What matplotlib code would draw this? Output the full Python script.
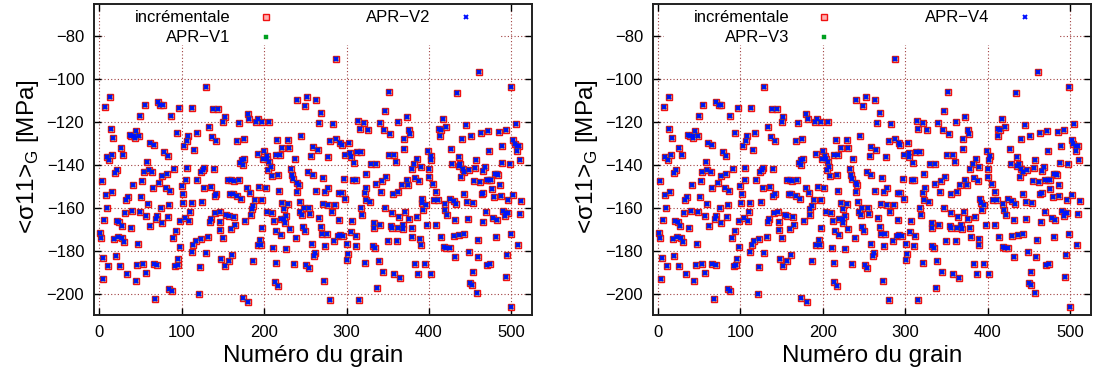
import matplotlib
matplotlib.use("Agg")
import matplotlib.pyplot as plt
from matplotlib.patches import Rectangle

plt.rcParams["font.family"] = ["Liberation Sans", "DejaVu Sans"]
plt.rcParams["mathtext.fontset"] = "custom"
plt.rcParams["mathtext.rm"] = "Liberation Sans"

# grain number / mean stress <sigma11>_G in MPa
grains = [
    13, 7, 55, 71, 74, 77, 50, 87, 97, 14, 17, 37, 39, 42, 45, 48, 43, 61, 66, 94,
    103, 26, 9, 12, 16, 29, 79, 83, 58, 22, 19, 54, 60, 64, 76, 82, 91, 106, 3, 41,
    52, 73, 65, 81, 86, 100, 105, 8, 15, 35, 33, 51, 59, 75, 85, 101, 10, 31, 40, 49,
    57, 70, 69, 76, 84, 6, 21, 24, 27, 38, 62, 93, 98, 104, 1, 2, 18, 23, 28, 30,
    47, 90, 98, 5, 20, 11, 25, 46, 53, 66, 70, 92, 95, 96, 34, 57, 4, 44, 85, 88, 68,
    129, 113, 138, 144, 152, 150, 180, 182, 193, 190, 198, 206, 170, 133, 118, 108, 107, 137, 142, 167,
    175, 216, 115, 200, 192, 203, 204, 199, 214, 173, 176, 171, 174, 124, 127, 126, 139, 206, 208, 205,
    209, 217, 119, 156, 160, 163, 169, 179, 194, 202, 127, 136, 142, 140, 159, 162, 167, 172, 183, 189,
    198, 102, 112, 125, 185, 187, 110, 141, 146, 154, 157, 184, 204, 210, 109, 135, 134, 147, 164, 177,
    165, 160, 147, 215, 198, 132, 123, 117, 150, 114, 112, 195, 192, 196, 211, 129, 214, 122, 148, 152,
    157, 161, 187, 213, 217, 121, 174, 181,
    287, 240, 252, 263, 249, 269, 266, 283, 314, 321, 316, 326, 229, 245, 222, 230, 259, 265, 280, 287,
    292, 294, 303, 219, 257, 277, 298, 304, 305, 313, 318, 237, 309, 233, 234, 235, 240, 242, 253, 259,
    272, 297, 308, 311, 323, 218, 240, 263, 274, 278, 291, 294, 298, 322, 324, 323, 222, 224, 229, 243,
    248, 255, 271, 278, 286, 282, 318, 319, 227, 244, 246, 256, 267, 291, 307, 212, 220, 224, 225, 231,
    220, 247, 250, 239, 269, 270, 276, 285, 290, 292, 296, 301, 306, 312, 311, 227, 258, 274, 262, 261,
    302, 301, 322, 236, 251, 254, 273, 280, 315,
    352, 347, 373, 340, 346, 353, 362, 376, 377, 370, 370, 417, 412, 415, 421, 413, 434, 351, 358, 360,
    386, 382, 379, 390, 399, 403, 402, 400, 428, 436, 436, 330, 336, 348, 343, 336, 342, 356, 363, 367,
    373, 375, 383, 388, 400, 405, 409, 406, 391, 392, 393, 396, 329, 347, 355, 371, 376, 385, 364, 333,
    333, 341, 354, 355, 363, 368, 369, 379, 398, 409, 414, 430, 420, 425, 430, 433, 419, 422, 411, 350,
    361, 380, 389, 390, 332, 335, 418, 421, 425, 432, 339, 344, 358, 365, 383, 387, 395, 402, 337,
    461, 499, 445, 505, 472, 485, 493, 440, 451, 463, 489, 502, 504, 507, 509, 507, 427, 473, 511, 457,
    438, 441, 443, 448, 456, 468, 466, 488, 498, 480, 483, 484, 439, 470, 473, 475, 455, 462, 486, 476,
    443, 464, 466, 479, 487, 496, 502, 512, 446, 454, 469, 490, 494, 496, 492, 510, 432, 447, 465, 478,
    482, 437, 443, 460, 481, 499, 508, 449, 459, 495, 471, 474, 453, 494, 450, 452, 458, 500,
]
sigma_incr = [
    -108.5, -112.8, -112.0, -110.8, -112.2, -112.0, -117.0, -117.2, -113.3, -123.3, -127.5, -126.0, -126.7, -126.4, -124.4, -126.4, -127.5, -129.8, -130.8, -125.0,
    -131.0, -131.9, -136.5, -137.6, -135.4, -135.4, -134.0, -135.7, -138.7, -142.5, -143.9, -143.2, -142.2, -143.2, -145.0, -144.2, -141.8, -141.3, -147.6, -149.2,
    -147.6, -148.4, -150.7, -151.0, -152.1, -149.7, -147.2, -154.0, -152.8, -154.9, -156.5, -154.8, -158.3, -160.2, -158.6, -158.0, -160.3, -162.3, -161.4, -162.0,
    -163.9, -163.9, -165.4, -167.0, -164.2, -165.9, -166.2, -166.5, -168.5, -169.6, -168.5, -170.7, -166.2, -165.0, -171.6, -174.3, -174.7, -173.5, -174.0, -176.0,
    -176.9, -174.1, -178.1, -183.2, -182.3, -187.3, -187.1, -186.8, -186.3, -186.0, -186.7, -187.1, -186.7, -183.9, -191.0, -190.2, -193.3, -194.1, -198.1, -199.0, -202.6,
    -103.8, -113.3, -114.0, -114.0, -117.8, -120.0, -116.4, -118.7, -118.5, -119.8, -120.0, -119.8, -120.6, -122.3, -124.9, -126.6, -129.0, -127.0, -128.8, -128.8,
    -127.7, -128.3, -133.1, -133.7, -135.0, -135.7, -137.3, -137.3, -135.3, -137.6, -137.3, -139.1, -140.0, -143.3, -141.5, -142.3, -142.1, -138.7, -141.1, -142.5,
    -145.3, -144.9, -147.0, -146.9, -147.0, -147.5, -146.9, -150.7, -150.1, -150.9, -150.9, -150.4, -153.7, -154.6, -153.4, -153.5, -154.5, -155.9, -153.0, -156.5,
    -156.2, -153.8, -157.7, -157.1, -160.7, -159.2, -162.2, -162.6, -162.2, -163.3, -163.8, -163.3, -162.2, -162.6, -166.4, -165.4, -166.5, -166.7, -164.4, -166.1,
    -168.0, -169.8, -170.2, -170.9, -169.2, -173.5, -174.7, -175.3, -174.1, -177.3, -180.5, -175.2, -177.2, -177.5, -178.9, -181.2, -185.6, -187.6, -183.9, -187.0,
    -184.8, -182.2, -185.0, -194.6, -196.4, -200.1, -202.1, -203.8,
    -90.8, -109.6, -108.5, -109.7, -112.5, -115.8, -120.6, -121.0, -119.5, -120.6, -123.2, -123.7, -128.3, -126.3, -131.9, -132.2, -131.5, -132.9, -128.8, -127.7,
    -130.0, -130.9, -129.7, -135.6, -135.9, -136.5, -135.4, -134.5, -136.3, -134.2, -134.0, -137.4, -139.1, -142.1, -144.9, -146.4, -148.4, -149.3, -143.3, -144.9,
    -146.3, -146.6, -147.2, -147.0, -144.1, -152.0, -152.8, -152.0, -152.6, -150.9, -152.9, -152.9, -155.8, -153.0, -150.9, -156.2, -158.0, -160.5, -158.3, -157.4,
    -160.0, -160.3, -158.2, -158.6, -158.6, -161.9, -160.2, -163.3, -163.9, -161.9, -163.4, -163.1, -165.0, -165.9, -166.1, -166.2, -165.4, -165.4, -167.3, -170.0,
    -172.9, -168.9, -170.6, -174.1, -169.0, -172.4, -172.4, -175.3, -173.3, -172.7, -173.0, -176.8, -171.3, -173.0, -177.8, -179.1, -177.1, -177.8, -180.9, -182.5,
    -181.4, -184.3, -185.9, -186.0, -186.8, -188.0, -194.1, -203.1, -202.9,
    -106.0, -115.1, -117.5, -120.4, -123.7, -125.4, -120.0, -123.7, -125.5, -127.7, -132.5, -118.5, -123.2, -123.7, -122.3, -126.4, -106.6, -135.6, -135.6, -138.5,
    -137.1, -139.4, -142.1, -141.0, -133.6, -135.7, -137.9, -141.8, -139.6, -140.7, -136.1, -139.4, -139.4, -145.7, -147.3, -148.7, -152.8, -153.4, -152.8, -149.6,
    -146.9, -149.3, -146.1, -147.6, -145.8, -149.0, -152.5, -156.2, -155.9, -157.9, -161.1, -158.9, -157.2, -160.3, -162.6, -161.9, -165.2, -164.2, -164.2, -167.2,
    -169.2, -167.8, -168.4, -169.2, -169.3, -167.9, -170.1, -169.5, -167.9, -168.2, -173.7, -173.3, -160.9, -155.9, -156.8, -158.4, -158.2, -163.6, -156.2, -175.3,
    -175.3, -173.5, -174.7, -177.3, -177.8, -178.6, -178.5, -178.8, -178.9, -183.0, -184.6, -190.1, -190.7, -192.7, -186.3, -191.0, -186.3, -191.1, -197.5,
    -96.9, -103.8, -121.6, -120.9, -124.1, -124.6, -123.5, -127.7, -126.6, -125.0, -131.1, -128.5, -130.3, -131.0, -131.4, -133.3, -132.5, -133.6, -137.8, -137.8,
    -139.4, -142.1, -143.2, -142.4, -141.5, -140.9, -143.0, -139.0, -139.6, -144.2, -144.2, -144.7, -145.7, -147.0, -147.0, -147.0, -147.5, -147.9, -149.2, -151.1,
    -153.5, -153.5, -152.9, -155.2, -154.3, -156.3, -154.0, -156.8, -157.1, -157.7, -161.9, -161.7, -162.4, -162.4, -163.9, -162.8, -165.5, -165.3, -166.5, -165.0,
    -165.8, -172.7, -172.4, -175.0, -173.6, -172.1, -177.2, -180.5, -183.0, -182.2, -186.7, -186.2, -190.1, -192.1, -195.2, -196.1, -199.8, -206.5,
]
# the APR approximations fall on top of the incremental values at this scale
sigma_apr = sigma_incr

panels = [("APR\u2212V1", "APR\u2212V2"), ("APR\u2212V3", "APR\u2212V4")]
x_ticks = [0, 100, 200, 300, 400, 500]
y_ticks = [-200, -180, -160, -140, -120, -100, -80]

fig = plt.figure(figsize=(10.94, 3.82), dpi=100)
lefts = [0.0859, 0.5966]

for left, (name_a, name_b) in zip(lefts, panels):
    ax = fig.add_axes([left, 0.1754, 0.4004, 0.814])
    ax.plot(grains, sigma_incr, ls="none", marker="s", ms=4.0, mfc="#ffb0b0",
            mec="#f01010", mew=1.0, label="incrémentale", zorder=3)
    ax.plot(grains, sigma_apr, ls="none", marker="s", ms=2.8, mfc="#00a020",
            mec="#00a020", mew=0.3, label=name_a, zorder=4)
    ax.plot(grains, sigma_apr, ls="none", marker="x", ms=3.0, mec="#0010ff",
            mew=1.4, label=name_b, zorder=5)

    ax.set_xlim(-6.4, 525)
    ax.set_ylim(-210, -65)
    ax.set_xticks(x_ticks)
    ax.set_yticks(y_ticks)
    ax.grid(True, color="#a04040", ls=(0, (1, 2)), lw=0.8)
    ax.set_axisbelow(True)
    ax.tick_params(direction="in", top=True, right=True, length=5, width=1,
                   labelsize=12, pad=7)
    for s in ax.spines.values():
        s.set_linewidth(1.4)
        s.set_color("#202020")

    ax.set_xlabel("Numéro du grain", fontsize=17.5)
    ax.xaxis.set_label_coords(0.5, -0.095)
    ax.set_ylabel("<σ11>$_\\mathrm{G}$ [MPa]", fontsize=17.5)
    ax.yaxis.set_label_coords(-0.12, 0.51)

    # white key box hiding the grid behind it
    ax.add_patch(Rectangle((0.025, 0.868), 0.902, 0.2, transform=ax.transAxes,
                           facecolor="white", edgecolor="none", zorder=2))
    leg = ax.legend(loc="upper left", bbox_to_anchor=(0.067, 1.017), ncol=2,
                    frameon=False, markerfirst=False, fontsize=12,
                    labelspacing=0.3, handlelength=1.2, handletextpad=1.5,
                    columnspacing=5.45, borderpad=0.2)
    for t in leg.get_texts():
        t.set_ha("right")

fig.savefig("out.png", dpi=100)
